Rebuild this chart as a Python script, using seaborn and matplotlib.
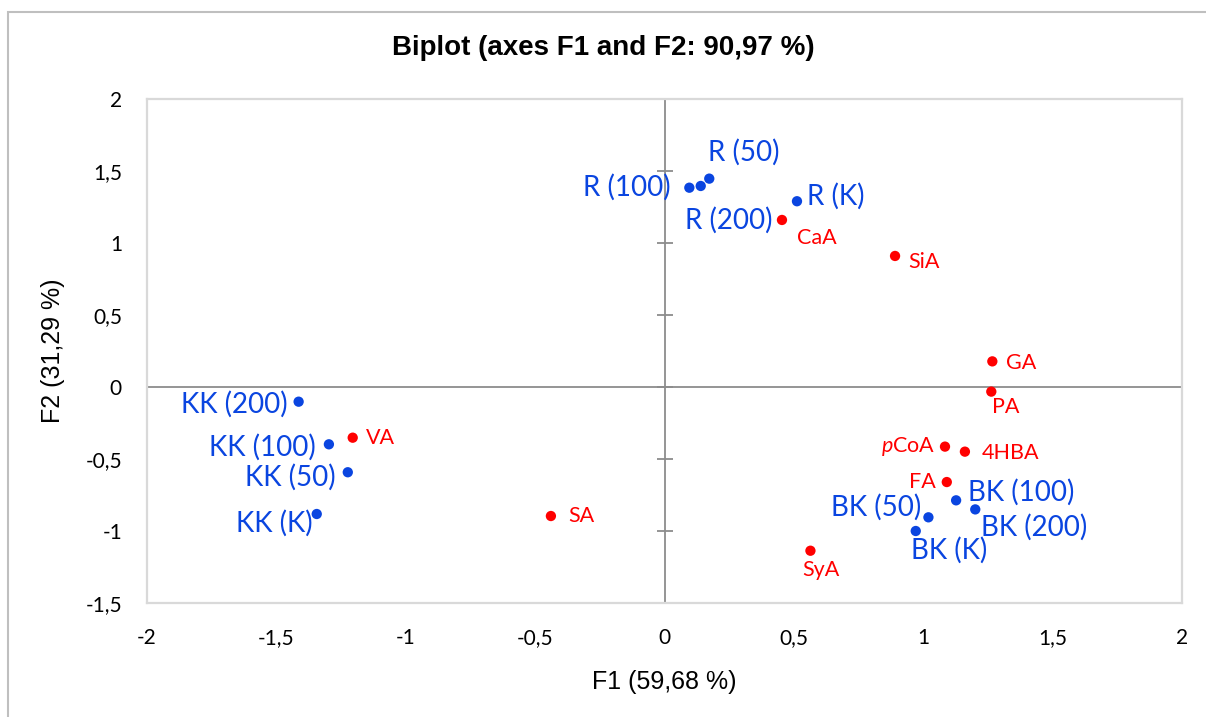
import matplotlib
matplotlib.use("Agg")
import matplotlib.pyplot as plt
import seaborn as sns
import pandas as pd
import numpy as np
from matplotlib.patches import Rectangle

# Observations (samples) - F1 / F2 scores
obs_names = ['R (K)', 'R (50)', 'R (100)', 'R (200)',
             'BK (K)', 'BK (50)', 'BK (100)', 'BK (200)',
             'KK (K)', 'KK (50)', 'KK (100)', 'KK (200)']
obs_f1 = [0.512, 0.173, 0.096, 0.140,
          0.971, 1.020, 1.127, 1.201,
          -1.344, -1.224, -1.297, -1.414]
obs_f2 = [1.290, 1.447, 1.384, 1.396,
          -1.000, -0.905, -0.787, -0.850,
          -0.882, -0.592, -0.398, -0.102]

# Variables (phenolic acids)
var_names = ['CaA', 'SiA', 'GA', 'PA', 'pCoA', '4HBA', 'FA', 'SyA', 'SA', 'VA']
var_f1 = [0.454, 0.891, 1.267, 1.263, 1.084, 1.161, 1.091, 0.564, -0.439, -1.205]
var_f2 = [1.160, 0.910, 0.178, -0.032, -0.414, -0.449, -0.660, -1.137, -0.896, -0.352]

x_ticks = [-2, -1.5, -1, -0.5, 0, 0.5, 1, 1.5, 2]
y_ticks = [-1.5, -1, -0.5, 0, 0.5, 1, 1.5, 2]

# label placement (offset in pixels, horizontal alignment)
label_pos = {
    'R (K)': (10, 5, 'left'), 'R (50)': (-1, 26, 'left'),
    'R (100)': (-19, 0, 'right'), 'R (200)': (-16, -34, 'left'),
    'BK (K)': (-5, -19, 'left'), 'BK (50)': (-7, 10, 'right'),
    'BK (100)': (12, 8, 'left'), 'BK (200)': (6, -18, 'left'),
    'KK (K)': (-4, -9, 'right'), 'KK (50)': (-12, -5, 'right'),
    'KK (100)': (-13, -3, 'right'), 'KK (200)': (-11, -3, 'right'),
    'CaA': (15, -18, 'left'), 'SiA': (13, -6, 'left'), 'GA': (14, -2, 'left'),
    'PA': (1, -15, 'left'), 'pCoA': (-10, 0, 'right'), '4HBA': (17, -1, 'left'),
    'FA': (-11, 0, 'right'), 'SyA': (-8, -19, 'left'), 'SA': (17, 0, 'left'),
    'VA': (13, 0, 'left'),
}

blue = '#0a45e0'
red = '#ff0000'

df = pd.DataFrame({
    'name': obs_names + var_names,
    'F1': obs_f1 + var_f1,
    'F2': obs_f2 + var_f2,
    'type': ['obs'] * len(obs_names) + ['var'] * len(var_names),
})

sns.set_style('white')
plt.rcParams['font.family'] = ['Lato', 'DejaVu Sans']
plt.rcParams['mathtext.fontset'] = 'custom'
plt.rcParams['mathtext.rm'] = 'Lato'
plt.rcParams['mathtext.it'] = 'Lato:italic'

fig = plt.figure(figsize=(12.06, 7.17), dpi=100)
ax = fig.add_axes([147 / 1206, 1 - 603 / 717, 1035 / 1206, 504 / 717])

# zero axes
ax.axhline(0, color='#8c8c8c', lw=1.3, zorder=1)
ax.axvline(0, color='#8c8c8c', lw=1.3, zorder=1)
ax.plot(np.zeros(len(y_ticks)), y_ticks, ls='none', marker='_', ms=11,
        mew=1.3, color='#8c8c8c', zorder=1)

sns.scatterplot(data=df, x='F1', y='F2', hue='type',
                palette={'obs': blue, 'var': red}, s=55, edgecolor='none',
                legend=False, ax=ax, zorder=3)

for _, row in df.iterrows():
    dx, dy, ha = label_pos[row['name']]
    txt = r'$\mathit{p}$CoA' if row['name'] == 'pCoA' else row['name']
    if row['type'] == 'obs':
        col, fs = blue, 20
    else:
        col, fs = red, 15.5
    ax.annotate(txt, (row['F1'], row['F2']), xytext=(dx, dy),
                textcoords='offset pixels', ha=ha, va='center',
                color=col, fontsize=fs, zorder=4)

ax.set_xlim(-2, 2)
ax.set_ylim(-1.5, 2)
ax.set_xticks(x_ticks)
ax.set_yticks(y_ticks)
fmt = lambda v: ('%g' % v).replace('.', ',')
ax.set_xticklabels([fmt(v) for v in x_ticks])
ax.set_yticklabels([fmt(v) for v in y_ticks])
ax.tick_params(axis='x', length=0, pad=18, labelsize=15, labelcolor='black')
ax.tick_params(axis='y', length=0, pad=18, labelsize=15, labelcolor='black')

for sp in ax.spines.values():
    sp.set_color('#d9d9d9')
    sp.set_linewidth(1.6)

ax.set_xlabel('F1 (59,68 %)', fontsize=18, family='Liberation Sans', color='black')
ax.set_ylabel('F2 (31,29 %)', fontsize=18, family='Liberation Sans', color='black')
ax.xaxis.set_label_coords(0.5, -0.133)
ax.yaxis.set_label_coords(-0.079, 0.5)

fig.text(0.5, 1 - 48 / 717, 'Biplot (axes F1 and F2: 90,97 %)', ha='center',
         va='center', fontsize=20, fontweight='bold', family='Liberation Sans',
         color='black')

# chart area border
fig.add_artist(Rectangle((8 / 1206, -0.1), 1.2, 1 - 12 / 717 + 0.1, fill=False,
                         ec='#bfbfbf', lw=1.5, transform=fig.transFigure))

fig.savefig('out.png', dpi=100)
